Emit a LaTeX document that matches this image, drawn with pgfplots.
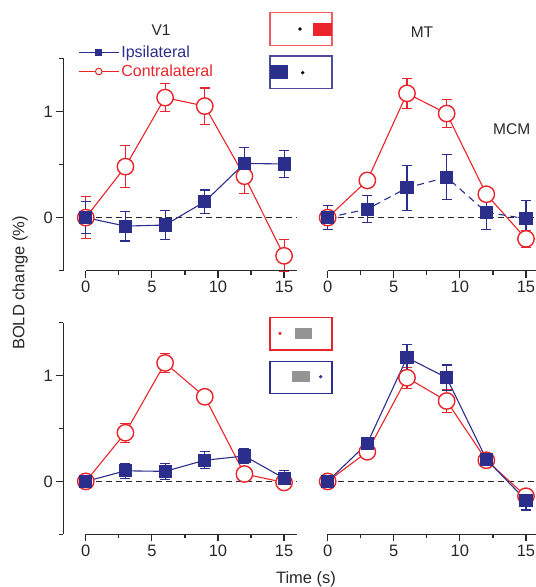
\documentclass[border=0pt]{standalone}
\usepackage{fontspec}
\setmainfont{Liberation Sans}
\usepackage{pgfplots}
\usepackage{pgfplotstable}
\pgfplotsset{compat=1.18}
\definecolor{ipsi}{RGB}{44,46,140}
\definecolor{contra}{RGB}{234,36,42}
\definecolor{axiscol}{RGB}{40,40,40}

% V1 (top left)
\pgfplotstableread{
x y e
0 0 0.15
3 -0.08 0.14
6 -0.07 0.14
9 0.15 0.11
12 0.51 0.15
15 0.505 0.13
}\vaIpsi
\pgfplotstableread{
x y e
0 0 0.2
3 0.48 0.2
6 1.13 0.13
9 1.05 0.17
12 0.39 0.16
15 -0.36 0.15
}\vaContra
% MT (top right)
\pgfplotstableread{
x y e
0 0 0.11
3 0.08 0.13
6 0.28 0.21
9 0.38 0.21
12 0.05 0.16
15 -0.01 0.17
}\vbIpsi
\pgfplotstableread{
x y e
0 0 0.05
3 0.35 0.04
6 1.17 0.14
9 0.98 0.13
12 0.22 0.05
15 -0.2 0.08
}\vbContra
% bottom left
\pgfplotstableread{
x y e
0 0 0.03
3 0.10 0.07
6 0.095 0.075
9 0.2 0.08
12 0.24 0.07
15 0.03 0.07
}\vcIpsi
\pgfplotstableread{
x y e
0 0 0.03
3 0.46 0.09
6 1.12 0.09
9 0.80 0.03
12 0.07 0.03
15 -0.01 0.03
}\vcContra
% bottom right
\pgfplotstableread{
x y e
0 0 0.03
3 0.36 0.05
6 1.17 0.12
9 0.98 0.12
12 0.21 0.04
15 -0.18 0.09
}\vdIpsi
\pgfplotstableread{
x y e
0 0 0.03
3 0.28 0.04
6 0.98 0.1
9 0.76 0.11
12 0.2 0.04
15 -0.14 0.06
}\vdContra

\pgfplotsset{
  panel/.style={scale only axis, clip=false, ymin=-0.5, ymax=1.5, xmin=-1.7,
    axis x line*=bottom, x axis line style={draw=none},
    xtick={0,5,10,15}, minor xtick={2.5,7.5,12.5},
    tick align=outside, major tick length=7pt, minor tick length=4pt,
    every tick/.style={axiscol, line width=1.2pt},
    tick label style={font=\fontsize{16.5}{18}\selectfont, text=axiscol},
    /pgf/number format/assume math mode=true},
  leftpanel/.style={panel, xmax=16, width=234pt, axis y line*=left,
    y axis line style={axiscol, line width=1.2pt},
    ytick={0,1}, minor ytick={-0.5,0.5,1.5}},
  rightpanel/.style={panel, xmax=15.75, width=230.7pt, axis y line=none, ytick=\empty},
  contraplot/.style={contra, line width=1.1pt, mark=*, mark size=8.2pt,
    mark options={fill=white, draw=contra, line width=1.4pt, solid},
    error bars/y dir=both, error bars/y explicit, error bars/error mark=|,
    error bars/error bar style={line width=1.1pt, contra, solid},
    error bars/error mark options={contra, mark size=5pt, line width=1.1pt, solid}},
  ipsiplot/.style={ipsi, line width=1.1pt, mark=square*, mark size=6pt,
    mark options={fill=ipsi, draw=ipsi, solid},
    error bars/y dir=both, error bars/y explicit, error bars/error mark=|,
    error bars/error bar style={line width=1.1pt, ipsi, solid},
    error bars/error mark options={ipsi, mark size=5pt, line width=1.1pt, solid}},
  zeroline/.style={axiscol, line width=1.5pt, dash pattern=on 6pt off 4pt, forget plot}
}

\begin{document}
\begin{tikzpicture}
\useasboundingbox (0pt,0pt) rectangle (536pt,-587pt);

% ---------- V1 ----------
\begin{axis}[leftpanel, at={(63.3pt,-270.7pt)}, anchor=south west, height=212.4pt,
  reverse legend,
  legend style={draw=none, fill=none, at={(rel axis cs:0.063,1.067)}, anchor=north west,
    inner sep=0pt, row sep=1.6pt, font=\fontsize{16}{18}\selectfont,
    nodes={inner sep=2pt}},
  legend cell align=left]
\addplot[zeroline] coordinates {(0,0) (16,0)};
\addplot[contraplot, legend image code/.code={
   \draw[contra, line width=1.1pt] (0pt,0pt) -- (16.5pt,0pt) (23.5pt,0pt) -- (40pt,0pt);
   \draw[contra, line width=1pt, fill=white] (20pt,0pt) circle (3.3pt);}]
  table[x=x, y=y, y error=e] {\vaContra};
\addlegendentry{\textcolor{contra}{Contralateral}}
\addplot[ipsiplot, legend image code/.code={
   \draw[ipsi, line width=1.1pt] (0pt,0pt) -- (40pt,0pt);
   \fill[ipsi] (17pt,-3pt) rectangle (23pt,3pt);}]
  table[x=x, y=y, y error=e] {\vaIpsi};
\addlegendentry{\textcolor{ipsi}{Ipsilateral}}
\draw[axiscol, line width=1.2pt] (axis cs:0,-0.5) -- (axis cs:16,-0.5);
\end{axis}

% ---------- MT ----------
\begin{axis}[rightpanel, at={(305.2pt,-270.7pt)}, anchor=south west, height=212.4pt]
\addplot[zeroline] coordinates {(0,0) (15.75,0)};
\addplot[contraplot] table[x=x, y=y, y error=e] {\vbContra};
\addplot[ipsiplot, dash pattern=on 7pt off 5pt] table[x=x, y=y, y error=e] {\vbIpsi};
\draw[axiscol, line width=1.2pt] (axis cs:0,-0.5) -- (axis cs:15.75,-0.5);
\end{axis}

% ---------- bottom left ----------
\begin{axis}[leftpanel, at={(63.3pt,-534.3pt)}, anchor=south west, height=211.6pt]
\addplot[zeroline] coordinates {(0,0) (16,0)};
\addplot[contraplot] table[x=x, y=y, y error=e] {\vcContra};
\addplot[ipsiplot] table[x=x, y=y, y error=e] {\vcIpsi};
\draw[axiscol, line width=1.2pt] (axis cs:0,-0.5) -- (axis cs:16,-0.5);
\end{axis}

% ---------- bottom right ----------
\begin{axis}[rightpanel, at={(305.2pt,-534.3pt)}, anchor=south west, height=211.6pt]
\addplot[zeroline] coordinates {(0,0) (15.75,0)};
\addplot[contraplot] table[x=x, y=y, y error=e] {\vdContra};
\addplot[ipsiplot] table[x=x, y=y, y error=e] {\vdIpsi};
\draw[axiscol, line width=1.2pt] (axis cs:0,-0.5) -- (axis cs:15.75,-0.5);
\end{axis}

% titles and labels
\node[font=\fontsize{15.5}{17}\selectfont, text=axiscol] at (161pt,-30pt) {V1};
\node[font=\fontsize{15.5}{17}\selectfont, text=axiscol] at (422pt,-31.7pt) {MT};
\node[font=\fontsize{15.5}{17}\selectfont, text=axiscol] at (511.7pt,-129.3pt) {MCM};
\node[font=\fontsize{16.5}{18}\selectfont, text=axiscol] at (306pt,-579pt) {Time (s)};
\node[font=\fontsize{16.5}{18}\selectfont, text=axiscol, rotate=90] at (20pt,-283pt) {BOLD change (\%)};

% stimulus icons (top)
\draw[contra!75, line width=1.3pt] (270pt,-12.3pt) rectangle (332pt,-45.7pt);
\fill[contra] (313.3pt,-23.3pt) rectangle (332pt,-35.7pt);
\fill[black] (300pt,-29pt) circle (1.8pt);
\draw[ipsi!85, line width=1.3pt] (270pt,-56pt) rectangle (332pt,-88.3pt);
\fill[ipsi] (270pt,-65pt) rectangle (287.7pt,-79pt);
\fill[black] (302.7pt,-72.7pt) circle (1.8pt);
% stimulus icons (bottom)
\draw[contra, line width=1.3pt] (270pt,-317.7pt) rectangle (332pt,-350pt);
\fill[contra] (280pt,-333.3pt) circle (1.8pt);
\fill[black!42] (295pt,-327.7pt) rectangle (311.7pt,-339.3pt);
\draw[ipsi, line width=1.3pt] (270pt,-361.7pt) rectangle (332pt,-393.3pt);
\fill[black!42] (292.3pt,-371pt) rectangle (310pt,-381.7pt);
\fill[ipsi] (320.7pt,-376.7pt) circle (1.8pt);
\end{tikzpicture}
\end{document}
